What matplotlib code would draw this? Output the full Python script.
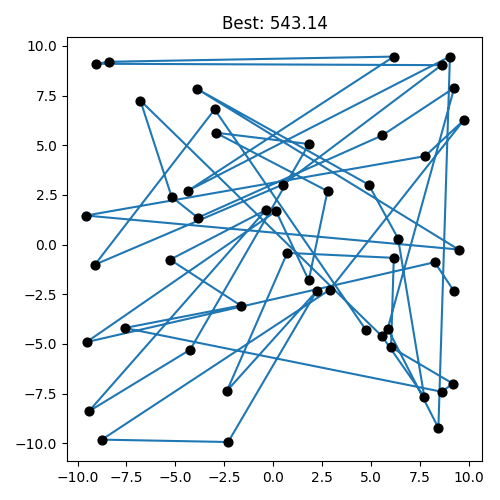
import matplotlib
matplotlib.use("Agg")
import matplotlib.pyplot as plt
import numpy as np

# city coordinates
city_x = [-9.06, -8.40, 6.17, 9.04, 8.61, 9.26, 9.74, -6.79, -3.90, -2.99,
          -2.94, 5.57, 1.83, 7.77, -4.33, -5.19, 0.50, 2.78, 4.88, -9.57,
          -3.85, -0.38, 0.15, 6.39, 9.48, -9.11, -5.27, 0.72, 6.17, 8.26,
          9.23, 1.82, 2.22, 2.90, -1.66, -7.59, -9.54, -4.24, 5.86, 4.76,
          5.57, 6.03, 9.19, 8.62, 7.73, 8.45, -9.43, -8.76, -2.36, -2.30]
city_y = [9.10, 9.20, 9.46, 9.46, 9.03, 7.89, 6.25, 7.25, 7.84, 6.80,
          5.63, 5.49, 5.06, 4.45, 2.72, 2.40, 3.02, 2.69, 3.02, 1.46,
          1.35, 1.73, 1.68, 0.30, -0.25, -1.01, -0.76, -0.42, -0.67, -0.89,
          -2.32, -1.80, -2.35, -2.27, -3.07, -4.20, -4.91, -5.29, -4.23, -4.32,
          -4.62, -5.17, -7.00, -7.41, -7.67, -9.23, -8.40, -9.82, -7.36, -9.94]

# best route found (city numbers, 1-based)
best_route = [31, 30, 37, 23, 32, 18, 11, 13, 38, 47, 22, 27, 35, 36, 44, 43, 42, 29, 28, 49,
              33, 50, 48, 34, 7, 14, 20, 25, 9, 19, 24, 45, 41, 8, 16, 21, 12, 6, 39, 46,
              4, 15, 3, 2, 1, 5, 17, 26, 10, 40]
best_length = 543.14

xs = np.array(city_x)
ys = np.array(city_y)
route = np.array(best_route) - 1

fig, ax = plt.subplots(figsize=(5, 5), dpi=100)
ax.scatter(xs, ys, color="black", s=40, zorder=2)
ax.plot(xs[route], ys[route], color="tab:blue", zorder=1)
ax.set_title(f"Best: {best_length:.2f}")
fig.tight_layout()
fig.savefig("out.png")
